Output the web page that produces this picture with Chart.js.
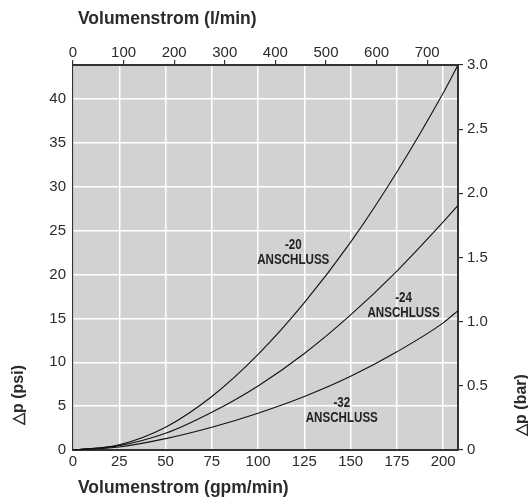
<!DOCTYPE html>
<html>
<head>
<meta charset="utf-8">
<script src="https://cdn.jsdelivr.net/npm/chart.js@4.4.1/dist/chart.umd.min.js"></script>
<style>
  html, body { margin: 0; padding: 0; background: #fff; }
  canvas { display: block; }
</style>
</head>
<body>
<canvas id="chart" width="528" height="498"></canvas>
<script>
// flow in gpm (bottom axis), pressure drop in psi (left axis)
const flowGpm = [0, 25, 50, 75, 100, 125, 150, 175, 200, 208];
const port20 = [0, 0.6, 2.6, 6.1, 10.9, 16.8, 23.7, 31.7, 40.7, 43.9];
const port24 = [0, 0.5, 1.9, 4.3, 7.3, 11.0, 15.4, 20.4, 26.0, 27.9];
const port32 = [0, 0.35, 1.3, 2.6, 4.2, 6.1, 8.4, 11.2, 14.5, 15.9];

const seriesNames = ['-20', '-24', '-32'];
// label anchor [gpm, psi] for each curve
const labelAt = [[119, 22.5], [178.6, 16.4], [145.2, 4.5]];

const xTitleTop = 'Volumenstrom (l/min)';
const xTitleBottom = 'Volumenstrom (gpm/min)';
const yTitleLeft = '\u25B3p (psi)';
const yTitleRight = '\u25B3p (bar)';

const TXT = '#2b2b2b';
const FONT = 'Liberation Sans, Arial, sans-serif';

function pts(ys) {
    return flowGpm.map((x, i) => ({ x: x, y: ys[i] }));
}

const lineStyle = {
    borderColor: '#111',
    borderWidth: 1.1,
    pointRadius: 0,
    fill: false,
    cubicInterpolationMode: 'monotone'
};

const textPlugin = {
    id: 'texts',
    beforeDraw(chart) {
        const { ctx, chartArea: a } = chart;
        ctx.save();
        ctx.fillStyle = '#d1d2d4';
        ctx.fillRect(a.left, a.top, a.right - a.left, a.bottom - a.top);
        ctx.restore();
    },
    afterDraw(chart) {
        const { ctx } = chart;
        const sx = chart.scales.x, sy = chart.scales.y;
        ctx.save();
        ctx.fillStyle = TXT;

        // axis titles
        ctx.font = 'bold 17.5px ' + FONT;
        ctx.textAlign = 'left';
        ctx.textBaseline = 'middle';
        ctx.fillText(xTitleTop, 78, 19);
        ctx.fillText(xTitleBottom, 78, 488);

        ctx.font = 'bold 16px ' + FONT;
        ctx.textAlign = 'center';
        ctx.save();
        ctx.translate(19, 395);
        ctx.rotate(-Math.PI / 2);
        ctx.fillText(yTitleLeft, 0, 0);
        ctx.restore();
        ctx.save();
        ctx.translate(522, 405);
        ctx.rotate(-Math.PI / 2);
        ctx.fillText(yTitleRight, 0, 0);
        ctx.restore();

        // curve labels, condensed bold
        ctx.font = 'bold 14.5px ' + FONT;
        ctx.fillStyle = '#222';
        seriesNames.forEach((name, i) => {
            const px = sx.getPixelForValue(labelAt[i][0]);
            const py = sy.getPixelForValue(labelAt[i][1]);
            ctx.save();
            ctx.translate(px, py);
            ctx.scale(0.8, 1);
            ctx.fillText(name, 0, -8);
            ctx.fillText('ANSCHLUSS', 0, 7);
            ctx.restore();
        });
        ctx.restore();
    }
};

const tickFont = { family: FONT, size: 15 };

new Chart(document.getElementById('chart'), {
    type: 'line',
    data: {
        datasets: [
            Object.assign({ label: seriesNames[0], data: pts(port20) }, lineStyle),
            Object.assign({ label: seriesNames[1], data: pts(port24) }, lineStyle),
            Object.assign({ label: seriesNames[2], data: pts(port32) }, lineStyle)
        ]
    },
    options: {
        responsive: false,
        animation: false,
        layout: { padding: 0 },
        plugins: { legend: { display: false }, tooltip: { enabled: false } },
        scales: {
            x: {
                type: 'linear',
                position: 'bottom',
                min: 0,
                max: 208,
                afterFit: s => { s.height = 48; },
                ticks: { stepSize: 25, includeBounds: false, font: tickFont, color: TXT, padding: 3, maxRotation: 0 },
                grid: { color: '#fff', lineWidth: 1.5, drawTicks: false },
                border: { color: '#333', width: 2 }
            },
            xTop: {
                type: 'linear',
                position: 'top',
                min: 0,
                max: 761,
                afterFit: s => { s.height = 65; },
                ticks: { stepSize: 100, includeBounds: false, font: tickFont, color: TXT, padding: -2, maxRotation: 0 },
                grid: { drawOnChartArea: false, drawTicks: true, tickLength: 5, color: '#333', lineWidth: 1.2 },
                border: { color: '#333', width: 2 }
            },
            y: {
                type: 'linear',
                position: 'left',
                min: 0,
                max: 43.9,
                afterFit: s => { s.width = 73; },
                ticks: { stepSize: 5, includeBounds: false, font: tickFont, color: TXT, padding: 7 },
                grid: { color: '#fff', lineWidth: 1.5, drawTicks: false },
                border: { color: '#333', width: 1.2 }
            },
            yBar: {
                type: 'linear',
                position: 'right',
                min: 0,
                max: 3,
                afterFit: s => { s.width = 70; },
                ticks: {
                    stepSize: 0.5,
                    font: tickFont,
                    color: TXT,
                    padding: 4,
                    callback: v => (v === 0 ? '0' : v.toFixed(1))
                },
                grid: { drawOnChartArea: false, drawTicks: true, tickLength: 5, color: '#333', lineWidth: 1.2 },
                border: { color: '#333', width: 2 }
            }
        }
    },
    plugins: [textPlugin]
});
</script>
</body>
</html>
